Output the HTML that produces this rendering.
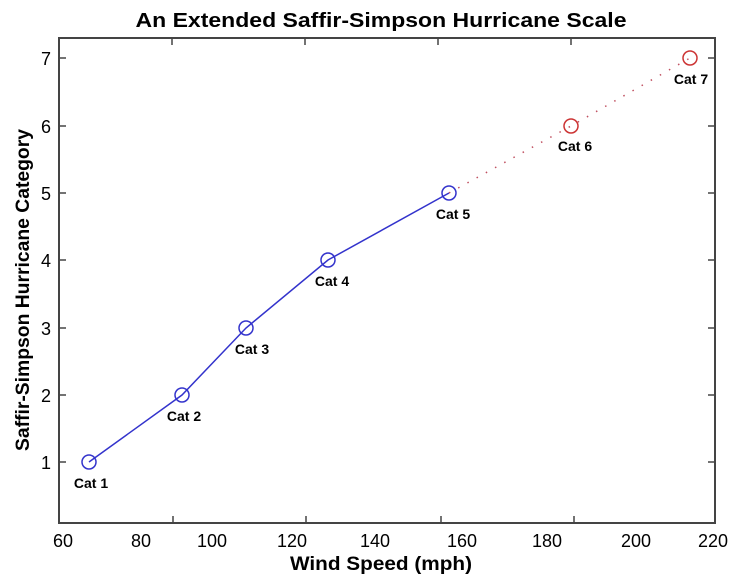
<!DOCTYPE html>
<html><head><style>body{margin:0;background:#fff}</style></head><body>
<svg width="738" height="575" xmlns="http://www.w3.org/2000/svg" font-family="Liberation Sans, Arial, sans-serif">
<text x="381" y="27" text-anchor="middle" font-size="20" font-weight="bold" textLength="491" lengthAdjust="spacingAndGlyphs">An Extended Saffir-Simpson Hurricane Scale</text>
<rect x="59" y="38" width="656" height="485" fill="none" stroke="#444" stroke-width="2"/>
<g stroke="#444" stroke-width="1.5">
<line x1="173" y1="523" x2="173" y2="516"/><line x1="306" y1="523" x2="306" y2="516"/><line x1="441" y1="523" x2="441" y2="516"/><line x1="574" y1="523" x2="574" y2="516"/>
<line x1="172" y1="38" x2="172" y2="45"/><line x1="305" y1="38" x2="305" y2="45"/><line x1="438" y1="38" x2="438" y2="45"/><line x1="571" y1="38" x2="571" y2="45"/>
<line x1="59" y1="462" x2="66" y2="462"/><line x1="59" y1="395" x2="66" y2="395"/><line x1="59" y1="328" x2="66" y2="328"/><line x1="59" y1="260" x2="66" y2="260"/><line x1="59" y1="193" x2="66" y2="193"/><line x1="59" y1="126" x2="66" y2="126"/><line x1="59" y1="58" x2="66" y2="58"/>
<line x1="715" y1="462" x2="708" y2="462"/><line x1="715" y1="395" x2="708" y2="395"/><line x1="715" y1="328" x2="708" y2="328"/><line x1="715" y1="260" x2="708" y2="260"/><line x1="715" y1="193" x2="708" y2="193"/><line x1="715" y1="126" x2="708" y2="126"/><line x1="715" y1="58" x2="708" y2="58"/>
</g>
<g font-size="18" text-anchor="end">
<text x="51" y="469">1</text><text x="51" y="402">2</text><text x="51" y="335">3</text><text x="51" y="267">4</text><text x="51" y="200">5</text><text x="51" y="133">6</text><text x="51" y="65">7</text>
</g>
<g font-size="18" text-anchor="middle">
<text x="63" y="547">60</text><text x="141" y="547">80</text><text x="212" y="547">100</text><text x="292" y="547">120</text><text x="375" y="547">140</text><text x="462" y="547">160</text><text x="547" y="547">180</text><text x="636" y="547">200</text><text x="713" y="547">220</text>
</g>
<text x="381" y="570" text-anchor="middle" font-size="19" font-weight="bold" textLength="182" lengthAdjust="spacingAndGlyphs">Wind Speed (mph)</text>
<text transform="translate(29,290) rotate(-90)" text-anchor="middle" font-size="19" font-weight="bold" textLength="322" lengthAdjust="spacingAndGlyphs">Saffir-Simpson Hurricane Category</text>
<polyline points="89,462 182,395 246,328 328,260 449,193" fill="none" stroke="#3333cc" stroke-width="1.5"/>
<polyline points="449,193 571,126 690,58" fill="none" stroke="#c05060" stroke-width="1.5" stroke-dasharray="1.5 9"/>
<g fill="none" stroke="#3333cc" stroke-width="1.5">
<circle cx="89" cy="462" r="7"/><circle cx="182" cy="395" r="7"/><circle cx="246" cy="328" r="7"/><circle cx="328" cy="260" r="7"/><circle cx="449" cy="193" r="7"/>
</g>
<g fill="none" stroke="#cc3333" stroke-width="1.5"><circle cx="571" cy="126" r="7"/><circle cx="690" cy="58" r="7"/></g>
<g font-size="14" font-weight="bold" text-anchor="middle">
<text x="91" y="488">Cat 1</text><text x="184" y="421">Cat 2</text><text x="252" y="354">Cat 3</text><text x="332" y="286">Cat 4</text><text x="453" y="219">Cat 5</text><text x="575" y="151">Cat 6</text><text x="691" y="84">Cat 7</text>
</g>
</svg>
</body></html>
